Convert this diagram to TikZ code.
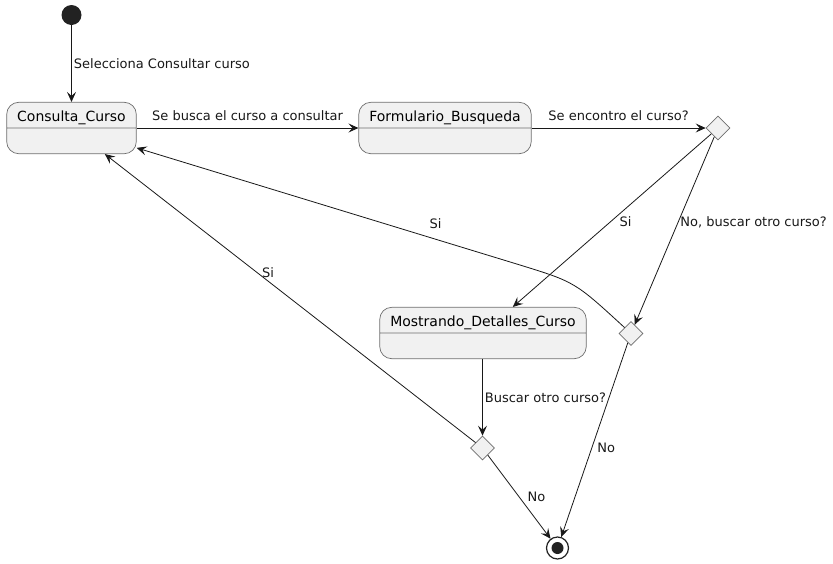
\documentclass[tikz,border=0pt]{standalone}
\usepackage{fontspec}
\setmainfont{DejaVu Sans}
\usetikzlibrary{shapes.geometric,shapes.multipart,arrows.meta,calc}
\definecolor{UMLfill}{HTML}{F1F1F1}
\definecolor{UMLline}{HTML}{181818}
\definecolor{UMLborder}{HTML}{6E6E6E}
\definecolor{UMLdot}{HTML}{222222}
\newcommand{\partstrut}{\rule[-4pt]{0pt}{21pt}}
\tikzset{
  state/.style={rectangle split, rectangle split parts=2, draw=UMLborder, line width=0.7pt,
    fill=UMLfill, rounded corners=12pt, inner xsep=10.5pt, inner ysep=2pt,
    font=\fontsize{14}{17}\selectfont},
  choice/.style={diamond, draw=UMLborder, line width=0.7pt, fill=UMLfill,
    minimum size=24pt, inner sep=0pt},
  initstate/.style={circle, fill=UMLdot, minimum size=20pt, inner sep=0pt},
  finalstate/.style={circle, draw=UMLdot, line width=1.2pt, fill=white, minimum size=22pt,
    inner sep=0pt, path picture={\fill[UMLdot] (path picture bounding box.center) circle (6pt);}},
  trans/.style={draw=UMLline, line width=0.8pt, -{Stealth[length=10pt,width=9pt,inset=4pt]}},
  lbl/.style={font=\fontsize{13}{15}\selectfont, text=UMLline, inner sep=2pt},
}
\begin{document}
\begin{tikzpicture}[x=1pt,y=-1pt]
  \useasboundingbox (0,0) rectangle (833,563);
  % states
  \node[initstate] (init) at (71.5,15) {};
  \node[state] (consulta) at (71.5,128) {\partstrut Consulta\_Curso\nodepart{two}\partstrut};
  \node[state] (formulario) at (445,128) {\partstrut Formulario\_Busqueda\nodepart{two}\partstrut};
  \node[state] (detalles) at (483,333) {\partstrut Mostrando\_Detalles\_Curso\nodepart{two}\partstrut};
  \node[choice] (encontro) at (718,128) {};
  \node[choice] (otro) at (631,333.5) {};
  \node[choice] (buscar) at (482.5,448) {};
  \node[finalstate] (fin) at (557.5,548) {};
  \coordinate (bend) at (520,265);
  % transitions
  \draw[trans] (init) -- node[lbl, right, pos=0.5] {Selecciona Consultar curso} (consulta);
  \draw[trans] (consulta.text split east) -- node[lbl, above=5pt] {Se busca el curso a consultar} (formulario.text split west);
  \draw[trans] (formulario.text split east) -- node[lbl, above=5pt] {Se encontro el curso?} (encontro);
  \draw[trans] (encontro) -- node[lbl, right=7pt, pos=0.51] {Si} (detalles);
  \draw[trans] (encontro) -- node[lbl, right, pos=0.455] {No, buscar otro curso?} (otro);
  \draw[trans] (otro) .. controls (575,282) .. (bend) -- node[lbl, pos=0.22, above=8pt] {Si} (consulta);
  \draw[trans] (detalles.south -| buscar) -- node[lbl, right, pos=0.5] {Buscar otro curso?} (buscar);
  \draw[trans] (buscar) -- node[lbl, pos=0.56, above=1pt] {Si} (consulta);
  \draw[trans] (buscar) -- node[lbl, right=6pt, pos=0.5] {No} (fin);
  \draw[trans] (otro) -- node[lbl, right=3pt, pos=0.54] {No} (fin);
\end{tikzpicture}
\end{document}
